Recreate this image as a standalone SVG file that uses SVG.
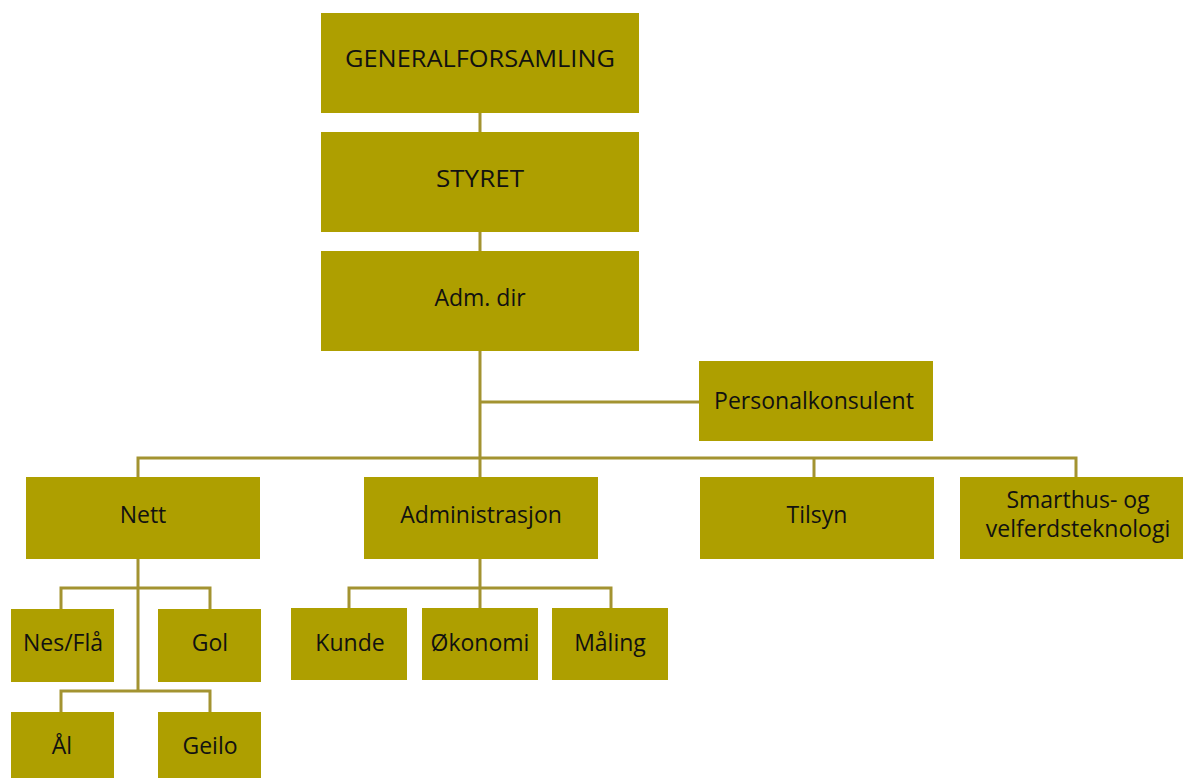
<svg xmlns="http://www.w3.org/2000/svg" width="1183" height="778" viewBox="0 0 1183 778">
<style>
.box{fill:#ae9f00}
.lbl{font-family:"Open Sans","Liberation Sans",Arial,sans-serif;font-size:23px;font-weight:500;fill:#111;text-anchor:middle}
.con{fill:none;stroke:#a39331;stroke-width:3}
</style>
<rect width="1183" height="778" fill="#fff"/>
<g id="connectors">
<path class="con" d="M480 113V477"/>
<path class="con" d="M480 402H699"/>
<path class="con" d="M138 477V458H1076V477"/>
<path class="con" d="M814 458V477"/>
<path class="con" d="M138 559V691"/>
<path class="con" d="M61 609V588H210V609"/>
<path class="con" d="M61 712V691H210V712"/>
<path class="con" d="M480 559V608"/>
<path class="con" d="M349 608V588H611V608"/>
</g>
<g id="generalforsamling"><rect class="box" x="321" y="13" width="318" height="100"/><text class="lbl" x="480" y="67" textLength="270" lengthAdjust="spacingAndGlyphs">GENERALFORSAMLING</text></g>
<g id="styret"><rect class="box" x="321" y="132" width="318" height="100"/><text class="lbl" x="480" y="187" textLength="88" lengthAdjust="spacingAndGlyphs">STYRET</text></g>
<g id="admdir"><rect class="box" x="321" y="251" width="318" height="100"/><text class="lbl" x="480" y="306">Adm. dir</text></g>
<g id="personalkonsulent"><rect class="box" x="699" y="361" width="234" height="80"/><text class="lbl" x="814" y="409">Personalkonsulent</text></g>
<g id="nett"><rect class="box" x="26" y="477" width="234" height="82"/><text class="lbl" x="143" y="523">Nett</text></g>
<g id="administrasjon"><rect class="box" x="364" y="477" width="234" height="82"/><text class="lbl" x="481" y="523">Administrasjon</text></g>
<g id="tilsyn"><rect class="box" x="700" y="477" width="234" height="82"/><text class="lbl" x="817" y="523">Tilsyn</text></g>
<g id="smarthus"><rect class="box" x="960" y="477" width="223" height="82"/><text class="lbl" x="1078" y="508">Smarthus- og</text><text class="lbl" x="1078" y="537">velferdsteknologi</text></g>
<g id="nesfla"><rect class="box" x="11" y="609" width="103" height="73"/><text class="lbl" x="63" y="651">Nes/Flå</text></g>
<g id="gol"><rect class="box" x="158" y="609" width="103" height="73"/><text class="lbl" x="210" y="651">Gol</text></g>
<g id="al"><rect class="box" x="11" y="712" width="103" height="66"/><text class="lbl" x="62" y="754">Ål</text></g>
<g id="geilo"><rect class="box" x="158" y="712" width="103" height="66"/><text class="lbl" x="210" y="754">Geilo</text></g>
<g id="kunde"><rect class="box" x="291" y="608" width="116" height="72"/><text class="lbl" x="350" y="651">Kunde</text></g>
<g id="okonomi"><rect class="box" x="422" y="608" width="116" height="72"/><text class="lbl" x="480" y="651">Økonomi</text></g>
<g id="maling"><rect class="box" x="552" y="608" width="116" height="72"/><text class="lbl" x="610" y="651">Måling</text></g>
</svg>
